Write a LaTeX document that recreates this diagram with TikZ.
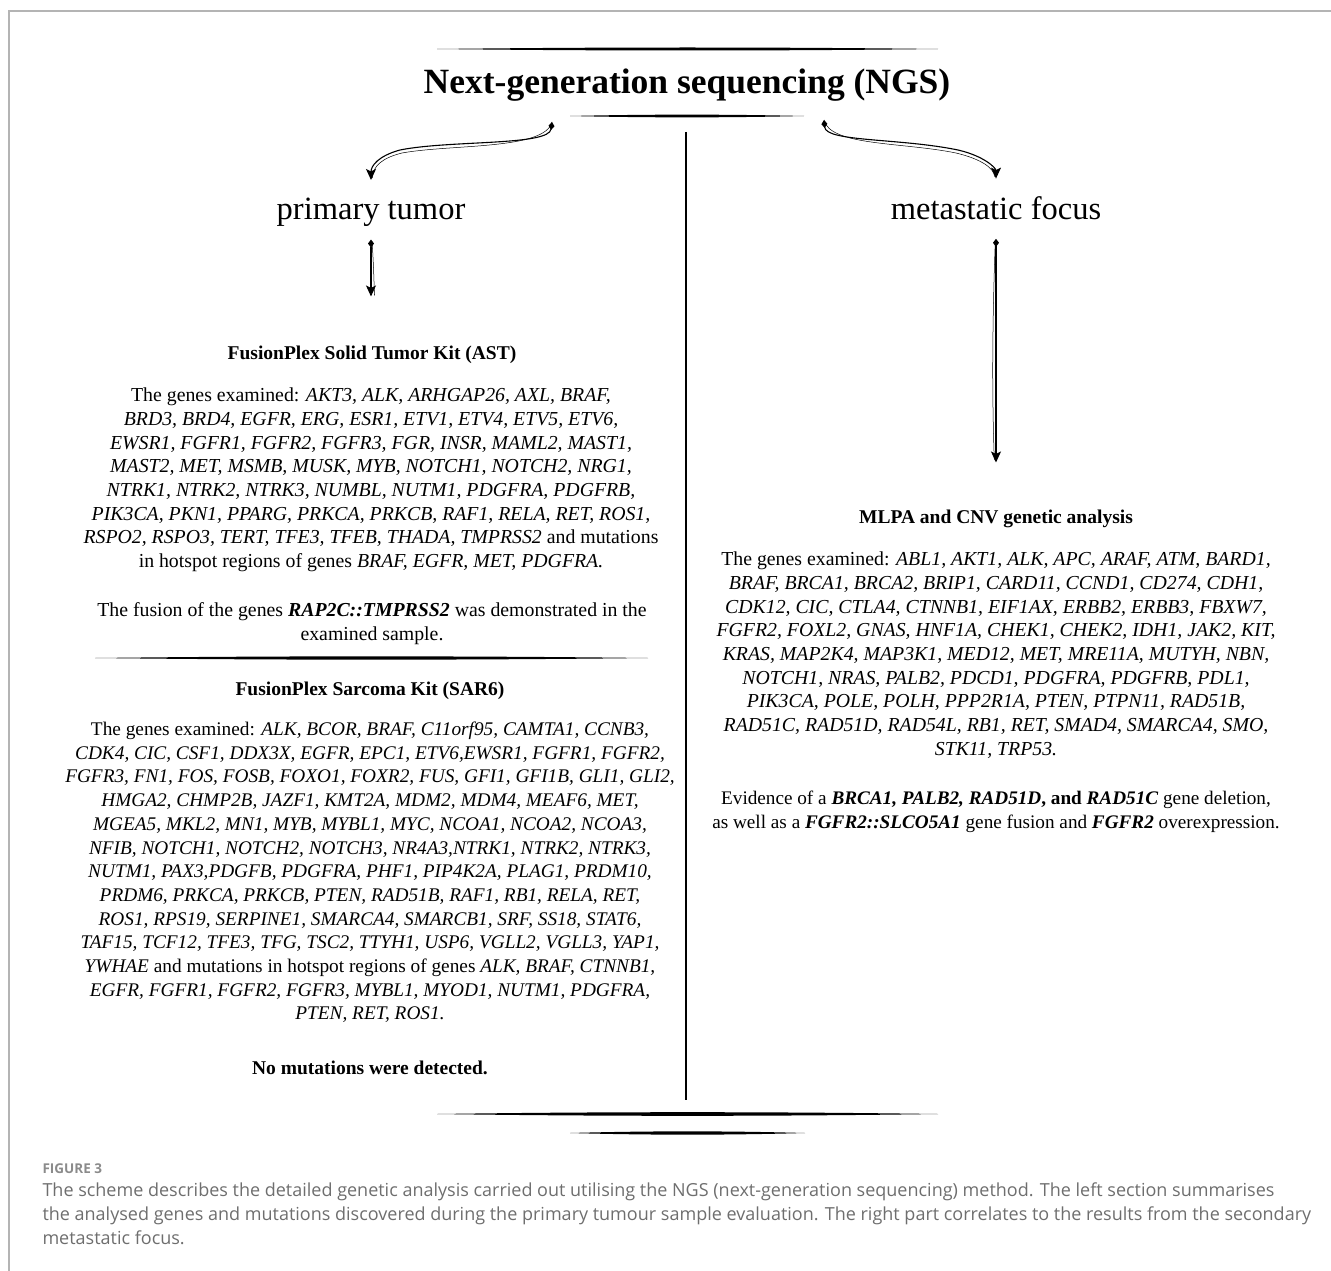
\documentclass[tikz,border=0pt]{standalone}
\usepackage{fontspec}
\setmainfont{Liberation Serif}
\newfontfamily\capfont{Open Sans}
\usetikzlibrary{arrows.meta}
\definecolor{capgray}{HTML}{6E6E6E}
\definecolor{framegray}{HTML}{B4B4B4}

\begin{document}
\begin{tikzpicture}[x=1pt,y=-1pt,>=Stealth,line width=1pt,
 para/.style={align=center,anchor=north,inner sep=0pt,font=\fontsize{19.8}{23.7}\selectfont},
 hdr/.style={anchor=base,inner sep=0pt,font=\bfseries\fontsize{19.5}{22}\selectfont},
 branch/.style={anchor=base,inner sep=0pt,font=\fontsize{32.5}{38}\selectfont},
 conn/.style={line width=1.1pt,{Diamond[length=8pt,width=6pt]}-{Stealth[length=11pt,width=10pt,inset=2.5pt]}},
 ghost/.style={line width=.5pt}]
\useasboundingbox (0,0) rectangle (1331,1271);
\draw[framegray,line width=1.3pt] (9,1271)--(9,11)--(1331,11);
% brush rules
\foreach \xa/\xb/\y/\w in {437/938/49/2,570/804/116/1.8,95/648/658/2.2,437/938/1114/2.4,570/805/1133/2.2}{
 \fill ({\xa},{\y}) .. controls ({\xa+(\xb-\xa)/3},{\y-\w}) and ({\xb-(\xb-\xa)/3},{\y-\w}) .. ({\xb},{\y})
  .. controls ({\xb-(\xb-\xa)/3},{\y+\w}) and ({\xa+(\xb-\xa)/3},{\y+\w}) .. ({\xa},{\y}) -- cycle;
}
\draw[line width=1.2pt] (686,132)--(686,1100);

% title and branches
\node[anchor=base,inner sep=0pt,font=\bfseries\fontsize{35.5}{42}\selectfont] (ngs) at (687,94) {Next-generation sequencing (NGS)};
\coordinate (ngsL) at (552,122);
\coordinate (ngsR) at (824,120);
\node[branch] (prim) at (371,219) {primary tumor};
\node[branch] (meta) at (996,219) {metastatic focus};

\draw[conn,shorten >=17pt] (ngsL) .. controls (549,146) and (450,140) .. (400,150) .. controls (378,156) and (371,166) .. (prim.north);
\draw[ghost,shorten >=19pt] (ngsL) .. controls (545,150) and (452,144) .. (402,153) .. controls (382,158) and (373,166) .. (prim.north);
\draw[conn,shorten >=17pt] (ngsR) .. controls (826,142) and (900,138) .. (958,150) .. controls (984,156) and (996,168) .. (meta.north);
\draw[ghost,shorten >=19pt] (ngsR) .. controls (830,146) and (902,142) .. (956,153) .. controls (981,159) and (994,168) .. (meta.north);

% left column
\node[hdr] (astHdr) at (372,359) {FusionPlex Solid Tumor Kit (AST)};
\draw[conn,shorten <=13pt,shorten >=48.5pt] (prim.south) -- (prim.south |- astHdr.north);
\draw[ghost,shorten <=15pt,shorten >=51pt] (prim.south) to[bend left=4] (prim.south |- astHdr.north);
\node[para] (astTxt) at (371,387.5) {The genes examined: \textit{AKT3, ALK, ARHGAP26, AXL, BRAF,}\\
\textit{BRD3, BRD4, EGFR, ERG, ESR1, ETV1, ETV4, ETV5, ETV6,}\\
\textit{EWSR1, FGFR1, FGFR2, FGFR3, FGR, INSR, MAML2, MAST1,}\\
\textit{MAST2, MET, MSMB, MUSK, MYB, NOTCH1, NOTCH2, NRG1,}\\
\textit{NTRK1, NTRK2, NTRK3, NUMBL, NUTM1, PDGFRA, PDGFRB,}\\
\textit{PIK3CA, PKN1, PPARG, PRKCA, PRKCB, RAF1, RELA, RET, ROS1,}\\
\textit{RSPO2, RSPO3, TERT, TFE3, TFEB, THADA, TMPRSS2} and mutations\\
in hotspot regions of genes \textit{BRAF, EGFR, MET, PDGFRA.}};
\node[para] (astFus) at (372,602.5) {The fusion of the genes \textbf{\textit{RAP2C::TMPRSS2}} was demonstrated in the\\
examined sample.};
\node[hdr] (sarHdr) at (370,695) {FusionPlex Sarcoma Kit (SAR6)};
\node[para,font=\fontsize{19.3}{23.7}\selectfont] (sarTxt) at (370,721.5) {The genes examined: \textit{ALK, BCOR, BRAF, C11orf95, CAMTA1, CCNB3,}\\
\textit{CDK4, CIC, CSF1, DDX3X, EGFR, EPC1, ETV6,EWSR1, FGFR1, FGFR2,}\\
\textit{FGFR3, FN1, FOS, FOSB, FOXO1, FOXR2, FUS, GFI1, GFI1B, GLI1, GLI2,}\\
\textit{HMGA2, CHMP2B, JAZF1, KMT2A, MDM2, MDM4, MEAF6, MET,}\\
\textit{MGEA5, MKL2, MN1, MYB, MYBL1, MYC, NCOA1, NCOA2, NCOA3,}\\
\textit{NFIB, NOTCH1, NOTCH2, NOTCH3, NR4A3,NTRK1, NTRK2, NTRK3,}\\
\textit{NUTM1, PAX3,PDGFB, PDGFRA, PHF1, PIP4K2A, PLAG1, PRDM10,}\\
\textit{PRDM6, PRKCA, PRKCB, PTEN, RAD51B, RAF1, RB1, RELA, RET,}\\
\textit{ROS1, RPS19, SERPINE1, SMARCA4, SMARCB1, SRF, SS18, STAT6,}\\
\textit{TAF15, TCF12, TFE3, TFG, TSC2, TTYH1, USP6, VGLL2, VGLL3, YAP1,}\\
\textit{YWHAE} and mutations in hotspot regions of genes \textit{ALK, BRAF, CTNNB1,}\\
\textit{EGFR, FGFR1, FGFR2, FGFR3, MYBL1, MYOD1, NUTM1, PDGFRA,}\\
\textit{PTEN, RET, ROS1.}};
\node[hdr] (sarRes) at (370,1074) {No mutations were detected.};

% right column
\node[hdr] (mlpaHdr) at (996,523) {MLPA and CNV genetic analysis};
\draw[conn,shorten <=19pt,shorten >=46.5pt] (meta.south) -- (meta.south |- mlpaHdr.north);
\draw[ghost,shorten <=21pt,shorten >=49pt] (meta.south) to[bend right=2] (meta.south |- mlpaHdr.north);
\node[para] (mlpaTxt) at (996,551.5) {The genes examined: \textit{ABL1, AKT1, ALK, APC, ARAF, ATM, BARD1,}\\
\textit{BRAF, BRCA1, BRCA2, BRIP1, CARD11, CCND1, CD274, CDH1,}\\
\textit{CDK12, CIC, CTLA4, CTNNB1, EIF1AX, ERBB2, ERBB3, FBXW7,}\\
\textit{FGFR2, FOXL2, GNAS, HNF1A, CHEK1, CHEK2, IDH1, JAK2, KIT,}\\
\textit{KRAS, MAP2K4, MAP3K1, MED12, MET, MRE11A, MUTYH, NBN,}\\
\textit{NOTCH1, NRAS, PALB2, PDCD1, PDGFRA, PDGFRB, PDL1,}\\
\textit{PIK3CA, POLE, POLH, PPP2R1A, PTEN, PTPN11, RAD51B,}\\
\textit{RAD51C, RAD51D, RAD54L, RB1, RET, SMAD4, SMARCA4, SMO,}\\
\textit{STK11, TRP53.}};
\node[para,font=\fontsize{19.2}{23.7}\selectfont] (mlpaRes) at (996,790.5) {Evidence of a \textbf{\textit{BRCA1, PALB2, RAD51D}, and \textit{RAD51C}} gene deletion,\\
as well as a \textbf{\textit{FGFR2::SLCO5A1}} gene fusion and \textbf{\textit{FGFR2}} overexpression.};

% caption
\node[anchor=base west,inner sep=0pt,font=\capfont\bfseries\fontsize{13.5}{16}\selectfont,text=capgray!80] (figNo) at (42,1173) {FIGURE 3};
\node[anchor=north west,align=left,inner sep=0pt,font=\capfont\fontsize{18}{24}\selectfont,text=capgray] (capTxt) at (42,1182) {The scheme describes the detailed genetic analysis carried out utilising the NGS (next-generation sequencing) method. The left section summarises\\
the analysed genes and mutations discovered during the primary tumour sample evaluation. The right part correlates to the results from the secondary\\
metastatic focus.};
\end{tikzpicture}
\end{document}
